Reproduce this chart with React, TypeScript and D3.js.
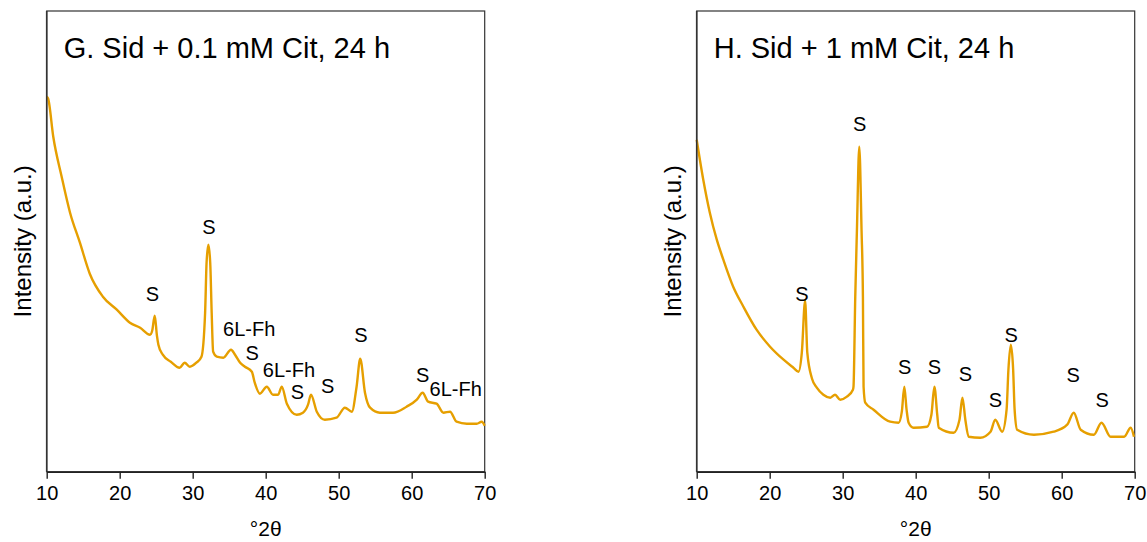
import React from "react";
import * as d3 from "d3";

const xTicks = [10, 20, 30, 40, 50, 60, 70];

// G. Sid + 0.1 mM Cit, 24 h
const gTheta = [
  10.0, 10.2, 10.9, 12.05, 13.2, 14.55, 15.9, 17.7, 19.6, 21.4, 22.8, 24.15, 24.45, 24.8, 25.1,
  25.3, 25.9, 27.0, 28.2, 28.9, 29.6, 30.5, 31.2, 31.7, 31.9, 32.15, 32.4, 32.6, 32.8, 33.3,
  34.2, 35.25, 35.8, 36.5, 37.15, 38.1, 38.5, 39.2, 40.15, 41.0, 41.7, 42.2, 42.9, 44.25, 45.1,
  45.8, 46.2, 47.0, 48.1, 49.7, 50.85, 51.8, 52.45, 52.95, 53.6, 54.3, 55.65, 57.45, 59.3, 60.7,
  61.5, 62.25, 63.4, 64.35, 65.25, 66.15, 67.55, 68.9, 69.6, 70.0,
];
const gIntensity = [
  375, 373, 335, 295, 259, 229, 198, 175, 162, 149, 144, 137, 141, 156, 136,
  127, 117, 110, 104, 109, 105, 109, 115, 159, 209, 227, 209, 159, 120, 115,
  114, 122, 117, 109, 105, 100, 89, 78, 85, 77, 77, 85, 68, 57, 59,
  67, 77, 60, 52, 54, 64, 60, 85, 113, 79, 64, 59, 59, 65, 72,
  79, 70, 68, 59, 60, 50, 48, 48, 50, 46,
];
const gLabels = ["S", "S", "6L-Fh", "S", "6L-Fh", "S", "S", "S", "S", "6L-Fh"];
const gLabelTheta = [24.47, 32.23, 37.74, 38.16, 43.19, 44.33, 48.49, 53.05, 61.51, 66.03];
const gLabelIntensity = [171, 238, 136, 112, 95, 73, 79, 130, 90, 76];

// H. Sid + 1 mM Cit, 24 h
const hTheta = [
  10.0, 10.9, 11.8, 12.75, 13.65, 15.0, 16.4, 18.2, 20.05, 21.9, 23.25, 23.95, 24.4, 24.85, 25.15,
  25.8, 26.45, 27.35, 28.3, 28.95, 29.66, 30.58, 31.4, 31.48, 31.72, 31.95, 32.27, 32.58, 32.77, 32.86,
  33.09, 34.23, 36.5, 37.66, 38.1, 38.44, 38.75, 39.03, 39.7, 41.55, 42.15, 42.56, 42.95, 43.15, 45.2,
  46.0, 46.4, 46.8, 47.25, 48.85, 50.25, 50.9, 51.85, 52.45, 52.7, 53.03, 53.35, 53.55, 53.9, 56.2,
  58.9, 60.75, 61.65, 62.6, 64.4, 65.45, 66.7, 68.55, 69.45, 69.9,
];
const hIntensity = [
  332, 292, 259, 232, 212, 185, 165, 142, 125, 112, 104, 100, 119, 171, 119,
  93, 84, 77, 74, 77, 72, 75, 82, 85, 175, 242, 325, 242, 175, 85,
  69, 62, 50, 49, 60, 85, 62, 49, 44, 45, 57, 85, 57, 44, 39,
  52, 74, 52, 35, 34, 40, 52, 40, 62, 102, 127, 102, 62, 42, 37,
  40, 47, 59, 42, 37, 49, 35, 35, 44, 35,
];
const hLabels = ["S", "S", "S", "S", "S", "S", "S", "S", "S"];
const hLabelTheta = [24.4, 32.31, 38.48, 42.56, 46.81, 50.93, 53.08, 61.58, 65.56];
const hLabelIntensity = [171, 341, 98, 98, 91, 65, 130, 90, 65];

const font = "'Liberation Sans', Arial, sans-serif";

function drawPanel(svg, left, title, theta, intensity, labels, labelTheta, labelIntensity) {
  const plotW = 438;
  const top = 11;
  const bottom = 471.7;

  const x = d3.scaleLinear().domain([10, 70]).range([left, left + plotW]);
  const y = d3.scaleLinear().domain([0, 460.7]).range([bottom, top]);

  const g = svg.append("g");

  // frame
  g.append("rect")
    .attr("x", left)
    .attr("y", top)
    .attr("width", plotW)
    .attr("height", bottom - top)
    .attr("fill", "none")
    .attr("stroke", "#333")
    .attr("stroke-width", 1.2);

  // data line
  const line = d3
    .line()
    .x((d) => x(d[0]))
    .y((d) => y(d[1]))
    .curve(d3.curveMonotoneX);
  g.append("path")
    .datum(theta.map((t, i) => [t, intensity[i]]))
    .attr("d", line)
    .attr("fill", "none")
    .attr("stroke", "#E69F00")
    .attr("stroke-width", 2.4)
    .attr("stroke-linejoin", "round");

  // x axis
  const xAxis = d3.axisBottom(x).tickValues(xTicks).tickSize(7).tickSizeOuter(0);
  const ax = g.append("g").attr("transform", `translate(0, ${bottom})`).call(xAxis);
  ax.select(".domain").attr("stroke", "#222").attr("stroke-width", 1.6);
  ax.selectAll(".tick line").attr("stroke", "#222").attr("stroke-width", 1.4);
  ax.selectAll(".tick text")
    .attr("y", 28.5)
    .attr("dy", 0)
    .attr("fill", "#000")
    .style("font-family", font)
    .style("font-size", "20px");

  // left axis line
  g.append("line")
    .attr("x1", left)
    .attr("x2", left)
    .attr("y1", top)
    .attr("y2", bottom)
    .attr("stroke", "#333")
    .attr("stroke-width", 1.6);

  // axis titles
  g.append("text")
    .attr("x", left + plotW / 2)
    .attr("y", 536)
    .attr("text-anchor", "middle")
    .style("font-family", font)
    .style("font-size", "21px")
    .text("°2θ");

  g.append("text")
    .attr("transform", `translate(${left - 16}, ${(top + bottom) / 2}) rotate(-90)`)
    .attr("text-anchor", "middle")
    .style("font-family", font)
    .style("font-size", "24px")
    .text("Intensity (a.u.)");

  // panel title
  g.append("text")
    .attr("x", left + 17)
    .attr("y", 58)
    .style("font-family", font)
    .style("font-size", "29px")
    .text(title);

  // peak labels
  g.selectAll(".peak")
    .data(labels)
    .enter()
    .append("text")
    .attr("x", (d, i) => x(labelTheta[i]))
    .attr("y", (d, i) => y(labelIntensity[i]))
    .attr("text-anchor", "middle")
    .style("font-family", font)
    .style("font-size", "20px")
    .text((d) => d);
}

function App() {
  const svgRef = React.useRef(null);

  React.useEffect(() => {
    const svg = d3.select(svgRef.current);
    svg.selectAll("*").remove();
    drawPanel(svg, 46.7, "G. Sid + 0.1 mM Cit, 24 h", gTheta, gIntensity, gLabels, gLabelTheta, gLabelIntensity);
    drawPanel(svg, 696.7, "H. Sid + 1 mM Cit, 24 h", hTheta, hIntensity, hLabels, hLabelTheta, hLabelIntensity);
  }, []);

  return (
    <svg
      ref={svgRef}
      width={1147}
      height={542}
      style={{ position: "absolute", left: 0, top: 0, background: "#fff" }}
    />
  );
}

export default App;
